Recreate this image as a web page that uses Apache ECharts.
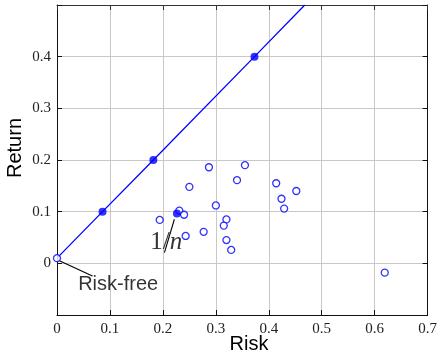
<!DOCTYPE html>
<html>
<head>
<meta charset="utf-8">
<script src="https://cdn.jsdelivr.net/npm/echarts@6/dist/echarts.min.js"></script>
<style>
  html, body { margin: 0; padding: 0; background: #fff; }
  #chart { width: 440px; height: 354px; }
</style>
</head>
<body>
<div id="chart"></div>
<script>
// individual assets (hollow circles)
const assetRisk   = [0.287, 0.355, 0.340, 0.250, 0.300, 0.231, 0.240, 0.194, 0.320, 0.315, 0.277, 0.243, 0.320, 0.329, 0.414, 0.452, 0.424, 0.429, 0.619];
const assetReturn = [0.186, 0.190, 0.161, 0.148, 0.112, 0.102, 0.094, 0.084, 0.085, 0.073, 0.061, 0.053, 0.045, 0.026, 0.155, 0.140, 0.125, 0.106, -0.018];

// risk-free asset
const riskFree = [0, 0.01];

// capital market line
const cmlRisk   = [0, 0.086, 0.182, 0.373, 0.468];
const cmlReturn = [0.01, 0.1, 0.2, 0.4, 0.5];

// portfolios marked on the line (filled)
const portRisk   = [0.086, 0.182, 0.373];
const portReturn = [0.1, 0.2, 0.4];

// equal-weight portfolio 1/n
const equalWeight = [0.2265, 0.0963];

// annotation leaders
const rfLeader = [[0.0015, 0.0064], [0.067, -0.0246]];
const rfLabelAt = [0.040, -0.040];
const nLeader = [[0.2217, 0.0853], [0.2029, 0.0207]];
const nLabelAt = [0.176, 0.040];

const xTicks = [0, 0.7, 0.1];
const yTicks = [-0.1, 0.5, 0.1];

const blue = '#0000ff';
const tickFont = { fontFamily: 'Liberation Serif', fontSize: 15, color: '#222' };

const chart = echarts.init(document.getElementById('chart'));

const zip = (a, b) => a.map((v, i) => [v, b[i]]);

const frameAxis = (color, extra) => Object.assign({
    type: 'value',
    axisLine: { show: true, onZero: false, lineStyle: { color: color, width: 1 } },
    axisTick: { show: true, inside: true, length: 5, lineStyle: { color: color } },
    axisLabel: { show: false },
    splitLine: { show: false }
}, extra);

const option = {
    animation: false,
    grid: { left: 57, right: 10, top: 5, bottom: 39, containLabel: false },
    xAxis: [
        frameAxis('#111', {
            position: 'bottom', min: xTicks[0], max: xTicks[1], interval: xTicks[2],
            axisLabel: Object.assign({ show: true, margin: 7 }, tickFont),
            splitLine: { show: true, lineStyle: { color: '#c8c8c8', width: 1 } }
        }),
        frameAxis('#333', { position: 'top', min: xTicks[0], max: xTicks[1], interval: xTicks[2] })
    ],
    yAxis: [
        frameAxis('#111', {
            position: 'left', min: yTicks[0], max: yTicks[1], interval: yTicks[2],
            axisLabel: Object.assign({
                show: true, margin: 6,
                formatter: v => (Math.abs(v - yTicks[0]) < 1e-9 || Math.abs(v - yTicks[1]) < 1e-9) ? '' : String(+v.toFixed(1))
            }, tickFont),
            splitLine: { show: true, lineStyle: { color: '#c8c8c8', width: 1 } }
        }),
        frameAxis('#111', { position: 'right', min: yTicks[0], max: yTicks[1], interval: yTicks[2] })
    ],
    graphic: [
        {
            type: 'text', x: 15, y: 148, rotation: Math.PI / 2,
            style: { text: 'Return', font: '20px "Liberation Sans"', fill: '#000', align: 'center', verticalAlign: 'middle' }
        },
        {
            type: 'text', x: 249, y: 344,
            style: { text: 'Risk', font: '20px "Liberation Sans"', fill: '#000', align: 'center', verticalAlign: 'middle' }
        }
    ],
    series: [
        {
            type: 'line', data: zip(cmlRisk, cmlReturn), showSymbol: false, symbol: 'none',
            lineStyle: { color: blue, width: 1.3 }, z: 2
        },
        {
            type: 'line', data: rfLeader, symbol: 'none',
            lineStyle: { color: '#000', width: 1.1 }, z: 1
        },
        {
            type: 'line', data: nLeader, symbol: 'none',
            lineStyle: { color: '#000', width: 1.1 }, z: 1
        },
        {
            type: 'scatter', data: zip(assetRisk, assetReturn).concat([riskFree]),
            symbol: 'circle', symbolSize: 7,
            itemStyle: { color: '#fff', borderColor: blue, borderWidth: 1.3 }, z: 3
        },
        {
            type: 'scatter', data: zip(portRisk, portReturn).concat([equalWeight]),
            symbol: 'circle', symbolSize: 8,
            itemStyle: { color: blue, borderColor: blue, borderWidth: 0 }, z: 4
        },
        {
            type: 'scatter', data: [rfLabelAt], symbolSize: 0, z: 5,
            label: {
                show: true, position: 'right', distance: 0, formatter: 'Risk-free',
                fontFamily: 'Liberation Sans', fontSize: 20, color: '#000'
            }
        },
        {
            type: 'scatter', data: [nLabelAt], symbolSize: 0, z: 5,
            label: {
                show: true, position: 'right', distance: 0,
                formatter: '{a|1}{s|/}{b|n}',
                rich: {
                    a: { fontFamily: 'Liberation Serif', fontSize: 25, color: '#000' },
                    s: { fontFamily: 'Liberation Serif', fontSize: 25, color: '#000' },
                    b: { fontFamily: 'Liberation Serif', fontSize: 25, fontStyle: 'italic', color: '#000' }
                }
            }
        }
    ]
};

chart.setOption(option);
</script>
</body>
</html>
